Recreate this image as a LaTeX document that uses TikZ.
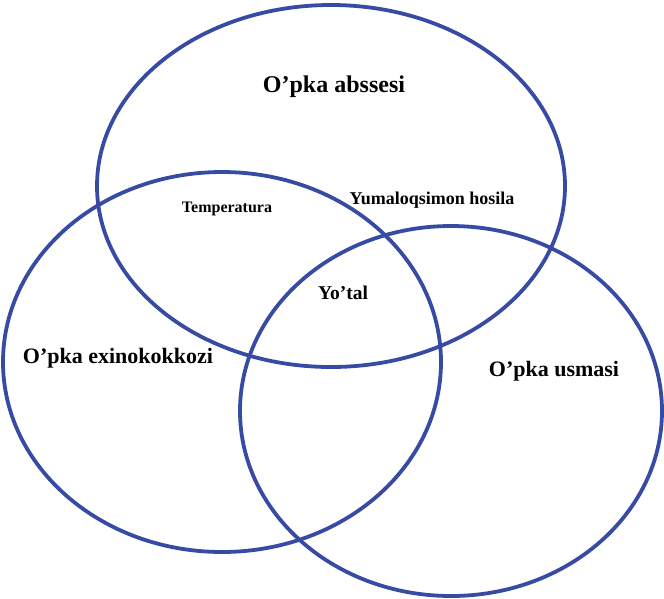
\documentclass[tikz,border=0pt]{standalone}
\usepackage{fontspec}
\setmainfont{Liberation Serif}
\definecolor{vennblue}{RGB}{55,75,165}
\tikzset{
  venn/.style={draw=vennblue, line width=3.8pt},
  biglabel/.style={font=\bfseries\fontsize{22}{26}\selectfont, inner sep=0pt},
  smalllabel/.style={font=\bfseries\fontsize{18}{21}\selectfont, inner sep=0pt}
}
\begin{document}
\begin{tikzpicture}[x=1pt,y=-1pt]
  \useasboundingbox (0,0) rectangle (664,598);
  % the three sets
  \draw[venn] (331,186) ellipse [x radius=234, y radius=181];
  \draw[venn] (222,362) ellipse [x radius=219, y radius=190];
  \draw[venn] (451,411) ellipse [x radius=211, y radius=185];
  % labels
  \draw
    (334,87) node[biglabel, font=\bfseries\fontsize{24}{28}\selectfont] (abscess) {O’pka abssesi}
    (118,358) node[biglabel] (echino) {O’pka exinokokkozi}
    (554,371) node[biglabel] (tumour) {O’pka usmasi}
    (227,209) node[smalllabel, font=\bfseries\fontsize{16}{19}\selectfont] (temp) {Temperatura}
    (432,200) node[smalllabel] (round) {Yumaloqsimon hosila}
    (343,293) node[smalllabel, font=\bfseries\fontsize{19.5}{23}\selectfont] (cough) {Yo’tal};
\end{tikzpicture}
\end{document}
